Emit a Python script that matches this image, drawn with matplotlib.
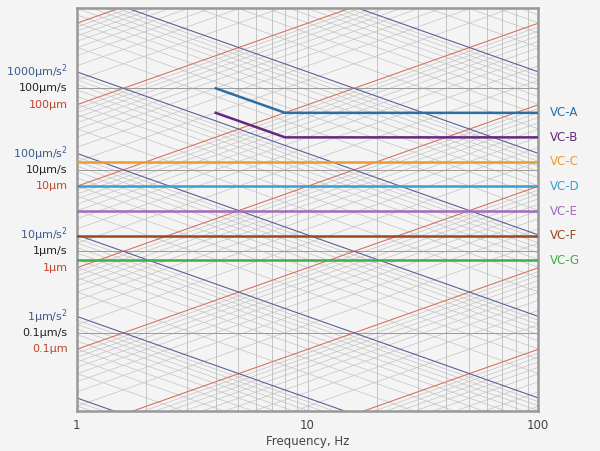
import numpy as np
import matplotlib
matplotlib.use("Agg")
import matplotlib.pyplot as plt
from matplotlib.transforms import blended_transform_factory

criteria = ["VC-A", "VC-B", "VC-C", "VC-D", "VC-E", "VC-F", "VC-G"]
levels = [50, 25, 12.5, 6.25, 3.12, 1.56, 0.78]  # um/s
colors = ["#2b6ea3", "#64287f", "#e89d2e", "#3a9fcd", "#a56ab9", "#9a4a1f", "#3fae45"]
slope_start = [4, 4, None, None, None, None, None]  # Hz, for constant-acceleration part
slope_end = 8

acc_labels = ["1000μm/s$^2$", "100μm/s$^2$", "10μm/s$^2$", "1μm/s$^2$"]
vel_labels = ["100μm/s", "10μm/s", "1μm/s", "0.1μm/s"]
disp_labels = ["100μm", "10μm", "1μm", "0.1μm"]
label_decades = [100, 10, 1, 0.1]

fig = plt.figure(figsize=(6, 4.51), dpi=100, facecolor="#f4f4f4")
ax = fig.add_axes([0.128, 0.0887, 0.769, 0.893])
ax.set_facecolor("#f4f4f4")
ax.set_xscale("log"); ax.set_yscale("log")
xmin, xmax, ymin, ymax = 1, 100, 0.0110, 959
ax.set_xlim(xmin, xmax); ax.set_ylim(ymin, ymax)

f = np.array([xmin, xmax])
# diagonal grids
for k in range(-5, 8):
    for m in range(1, 10):
        c = 10.0**k * m
        lw, col = 0.5, "#c4c4c4"
        if m == 1:
            ax.plot(f, 0.628 * c * f / 10 * 10, color="#d2765e", lw=0.8, zorder=2)
            ax.plot(f, c / (2 * np.pi * f), color="#5c5f9a", lw=0.8, zorder=2)
        else:
            ax.plot(f, 0.628 * c * f, color=col, lw=lw, zorder=1)
            ax.plot(f, c / (2 * np.pi * f), color=col, lw=lw, zorder=1)
# vertical grid
for d in [1, 10]:
    for m in range(1, 10):
        ax.axvline(d * m, color="#bdbdbd", lw=0.6, zorder=1)
for v in [0.1, 1, 10, 100]:
    ax.axhline(v, color="#9a9a9a", lw=0.7, zorder=1)

tr = blended_transform_factory(ax.transAxes, ax.transData)
for i, (name, lv, col, s) in enumerate(zip(criteria, levels, colors, slope_start)):
    if s is None:
        xs, ys = [xmin, xmax], [lv, lv]
    else:
        xs = [s, slope_end, xmax]
        ys = [lv * slope_end / s, lv, lv]
    ax.plot(xs, ys, color=col, lw=1.8, zorder=3)
    ax.text(1.025, lv, name, transform=tr, color=col, fontsize=8.5, va="center", ha="left")

for a, v, d, dec in zip(acc_labels, vel_labels, disp_labels, label_decades):
    ax.text(-0.02, dec * 10 / (2 * np.pi), a, transform=tr, color="#3b5a8c", fontsize=8, ha="right", va="center")
    ax.text(-0.02, dec, v, transform=tr, color="#222222", fontsize=8, ha="right", va="center")
    ax.text(-0.02, dec * 0.628, d, transform=tr, color="#c0452c", fontsize=8, ha="right", va="center")

ax.set_yticks([]); ax.minorticks_off()
ax.tick_params(axis="y", which="both", left=False, labelleft=False)
ax.set_xticks([1, 10, 100]); ax.set_xticklabels(["1", "10", "100"])
ax.tick_params(axis="x", which="both", length=0, labelsize=8.5, colors="#444444", pad=6)
ax.set_xlabel("Frequency, Hz", fontsize=8.5, color="#444444", labelpad=2)
for sp in ax.spines.values():
    sp.set_color("#999999"); sp.set_linewidth(1.8)
fig.savefig("out.png", dpi=100, facecolor=fig.get_facecolor())
